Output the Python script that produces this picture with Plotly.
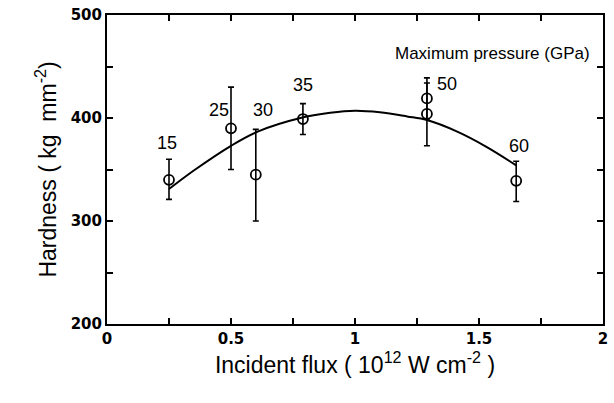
import plotly.graph_objects as go

# Measured hardness points
flux = [0.25, 0.5, 0.6, 0.79, 1.29, 1.29, 1.65]
hardness = [340, 390, 345, 399, 419, 404, 339]
err_plus = [20, 40, 44, 15, 20, 30, 19]
err_minus = [19, 40, 45, 15, 20, 31, 20]

# Fitted curve
fit_flux = [0.25, 0.35, 0.5, 0.61, 0.78, 0.9, 1.0, 1.1, 1.21, 1.29, 1.41, 1.53, 1.65]
fit_hardness = [331, 349, 373, 387, 400, 405, 407, 405.5, 401.5, 398, 387, 372, 354]

# Maximum pressure labels (GPa)
pressure_labels = ["15", "25", "30", "35", "50", "60"]
label_x = [0.24, 0.45, 0.63, 0.79, 1.37, 1.66]
label_y = [376, 408, 408, 432, 433, 373]

x_tickvals = [0, 0.5, 1, 1.5, 2]
x_ticktext = ["0", "0.5", "1", "1.5", "2"]
y_tickvals = [200, 300, 400, 500]
y_ticktext = ["200", "300", "400", "500"]

fig = go.Figure()
fig.add_trace(go.Scatter(
    x=fit_flux, y=fit_hardness, mode="lines", line_shape="spline",
    line=dict(color="black", width=2), hoverinfo="skip", showlegend=False))
fig.add_trace(go.Scatter(
    x=flux, y=hardness, mode="markers",
    marker=dict(symbol="circle-open", size=10, color="black", line=dict(width=1.8, color="black")),
    error_y=dict(type="data", symmetric=False, array=err_plus, arrayminus=err_minus,
                 color="black", thickness=1.6, width=3),
    showlegend=False))

for t, x, y in zip(pressure_labels, label_x, label_y):
    fig.add_annotation(x=x, y=y, text=t, showarrow=False, xref="x", yref="y",
                       font=dict(family="Liberation Sans, Arial", size=18, color="black"))
fig.add_annotation(x=1.555, y=463, text="Maximum pressure (GPa)", showarrow=False,
                   xref="x", yref="y",
                   font=dict(family="Liberation Sans, Arial", size=17, color="black"))

axis_common = dict(showgrid=False, zeroline=False, showline=True, linecolor="black",
                   linewidth=2, mirror="ticks", ticks="inside", ticklen=6, tickwidth=1.5,
                   tickcolor="black",
                   tickfont=dict(family="DejaVu Sans", size=15, color="black", weight="bold"))

fig.update_xaxes(range=[0, 2], tickvals=x_tickvals, ticktext=x_ticktext,
                 minor=dict(ticks="inside", tick0=0.25, dtick=0.5, ticklen=6,
                            tickwidth=1.5, tickcolor="black", showgrid=False),
                 title=dict(text="Incident flux ( 10<sup>12</sup> W cm<sup>-2</sup> )",
                            font=dict(family="Liberation Sans, Arial", size=23, color="black"),
                            standoff=8),
                 **axis_common)
fig.update_yaxes(range=[200, 500], tickvals=y_tickvals, ticktext=y_ticktext,
                 minor=dict(ticks="inside", tick0=250, dtick=100, ticklen=6,
                            tickwidth=1.5, tickcolor="black", showgrid=False),
                 title=dict(text="Hardness ( kg  mm<sup>-2</sup>)",
                            font=dict(family="Liberation Sans, Arial", size=23, color="black"),
                            standoff=8),
                 **axis_common)

fig.update_layout(width=614, height=403, margin=dict(l=107, r=6, t=15, b=79),
                  paper_bgcolor="white", plot_bgcolor="white")

fig.write_html("out.html")
